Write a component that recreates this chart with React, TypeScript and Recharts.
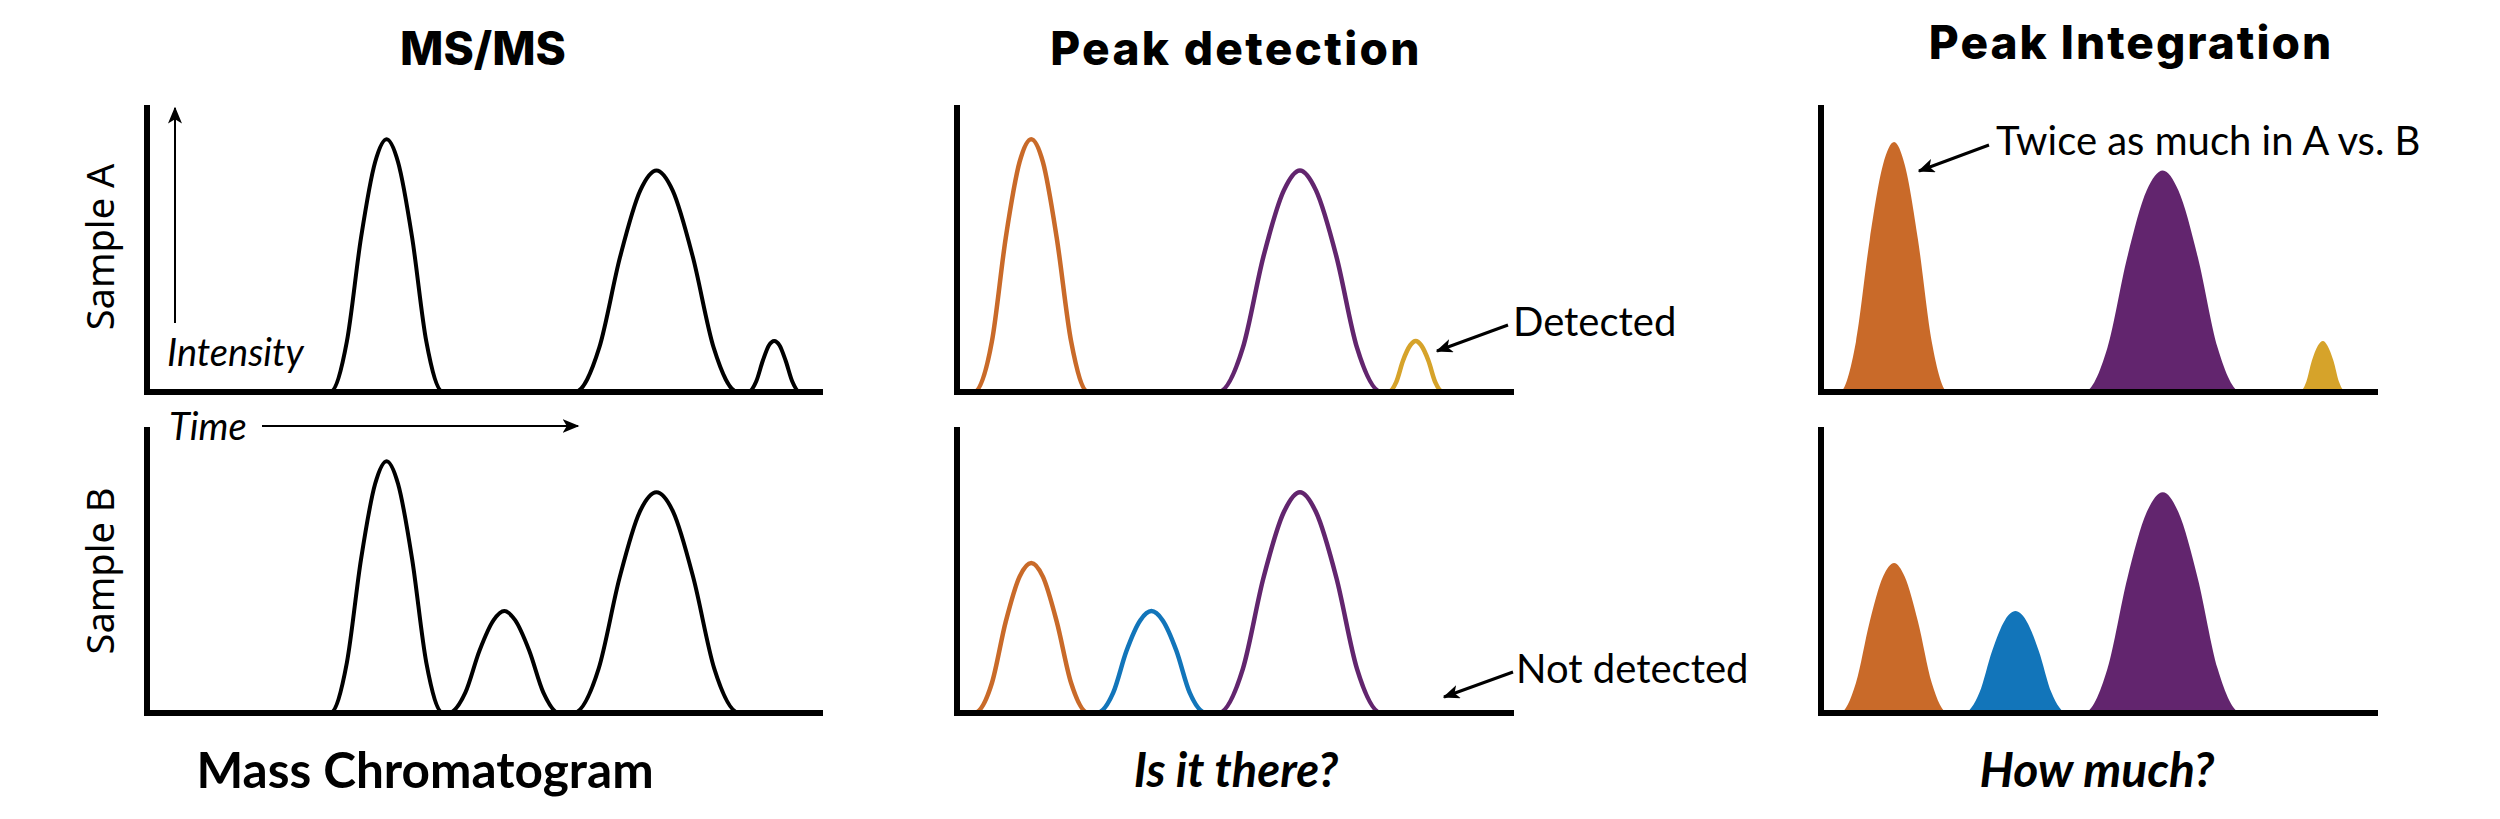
import React from "react";
import { ComposedChart, Line, Area, XAxis, YAxis } from "recharts";

// colours picked from the figure
const ORANGE = "#C96A29";
const PURPLE = "#62256E";
const YELLOW = "#D6A32A";
const BLUE = "#1275BA";
const INK = "#000000";

// --- MS/MS (raw chromatograms), time 0-100, intensity 0-100 ---
const msTimeA = [0, 27.2, 29.7, 31.8, 33.9, 35.6, 37.3, 39.4, 41.5, 44.0, 63.6, 67.2, 70.3, 73.3, 75.7, 78.1, 81.1, 84.2, 87.8, 89.3, 90.5, 91.5, 92.4, 93.2, 94.0, 94.9, 95.9, 97.0, 100];
const msSignalA = [0, 0, 17.8, 54.3, 81.0, 89, 81.0, 54.3, 17.8, 0, 0, 15.6, 47.6, 71.0, 78, 71.0, 47.6, 15.6, 0, 0, 3.6, 11.0, 16.4, 18, 16.4, 11.0, 3.6, 0, 0];
const msTimeB = [0, 27.2, 29.7, 31.8, 33.9, 35.6, 37.3, 39.4, 41.5, 44.0, 44.8, 47.3, 49.4, 51.5, 53.1, 54.7, 56.8, 58.9, 61.2, 63.4, 67.1, 70.2, 73.2, 75.7, 78.2, 81.2, 84.3, 88.0, 100];
const msSignalB = [0, 0, 17.8, 54.3, 81.0, 89, 81.0, 54.3, 17.8, 0, 0, 7.2, 22.0, 32.8, 36, 32.8, 22.0, 7.2, 0, 0, 15.6, 47.6, 71.0, 78, 71.0, 47.6, 15.6, 0, 0];

// --- Peak detection ---
const detTimeOrange = [2.1, 3.1, 6.3, 8.8, 11.3, 13.4, 15.5, 18.0, 20.6, 23.7, 24.7];
const detTimePurple = [46.2, 47.2, 51.6, 55.3, 59.0, 61.9, 64.8, 68.5, 72.2, 76.6, 77.6];
const detTimeYellow = [76.9, 77.8, 79.3, 80.5, 81.8, 82.8, 83.8, 85.1, 86.3, 87.8, 88.6];
const detTimeBlue = [24.4, 25.2, 28.2, 30.6, 33.1, 35.1, 37.1, 39.6, 42.0, 45.0, 45.8];
const detOrangeA = [0, 0, 17.8, 54.3, 81.0, 89, 81.0, 54.3, 17.8, 0, 0];
const detPurpleA = [0, 0, 15.6, 47.6, 71.0, 78, 71.0, 47.6, 15.6, 0, 0];
const detYellowA = [0, 0, 3.6, 11.0, 16.4, 18, 16.4, 11.0, 3.6, 0, 0];
const detOrangeB = [0, 0, 10.6, 32.3, 48.2, 53, 48.2, 32.3, 10.6, 0, 0];
const detBlueB = [0, 0, 7.2, 22.0, 32.8, 36, 32.8, 22.0, 7.2, 0, 0];
const detPurpleB = [0, 0, 15.6, 47.6, 71.0, 78, 71.0, 47.6, 15.6, 0, 0];

// --- Peak integration ---
const intTimeOrange = [2.6, 3.4, 6.3, 8.8, 11.2, 13.2, 15.1, 17.5, 20.0, 22.9, 23.7];
const intTimePurple = [46.7, 47.5, 51.7, 55.3, 58.8, 61.7, 64.5, 68.0, 71.6, 75.8, 76.6];
const intTimeYellow = [85.5, 86.3, 87.6, 88.6, 89.7, 90.6, 91.4, 92.5, 93.5, 94.8, 95.6];
const intTimeBlue = [25.0, 25.8, 28.6, 30.9, 33.2, 35.1, 37.0, 39.3, 41.6, 44.4, 45.2];
const intOrangeA = [0, 0, 17.6, 53.7, 80.1, 88, 80.1, 53.7, 17.6, 0, 0];
const intPurpleA = [0, 0, 15.6, 47.6, 71.0, 78, 71.0, 47.6, 15.6, 0, 0];
const intYellowA = [0, 0, 3.6, 11.0, 16.4, 18, 16.4, 11.0, 3.6, 0, 0];
const intOrangeB = [0, 0, 10.6, 32.3, 48.2, 53, 48.2, 32.3, 10.6, 0, 0];
const intBlueB = [0, 0, 7.2, 22.0, 32.8, 36, 32.8, 22.0, 7.2, 0, 0];
const intPurpleB = [0, 0, 15.6, 47.6, 71.0, 78, 71.0, 47.6, 15.6, 0, 0];

const toRows = (t: number[], v: number[]) => t.map((x, i) => ({ t: x, v: v[i] }));

const PAD = 8;
const axisStyle = { stroke: INK, strokeWidth: 6, strokeLinecap: "square" as const };

// one small chart; the plot area spans x0..x1, y0..y1 on the page
function Panel({ x0, x1, y0, y1, children }: { x0: number; x1: number; y0: number; y1: number; children: React.ReactNode }) {
  return (
    <div style={{ position: "absolute", left: x0 - PAD, top: y0 - PAD }}>
      <ComposedChart
        width={x1 - x0 + 2 * PAD}
        height={y1 - y0 + 2 * PAD}
        margin={{ top: PAD, right: PAD, bottom: PAD - 1, left: PAD - 1 }}
      >
        <XAxis type="number" dataKey="t" domain={[0, 100]} allowDataOverflow height={1} tick={false} tickLine={false} axisLine={axisStyle} />
        <YAxis type="number" domain={[0, 100]} allowDataOverflow width={1} tick={false} tickLine={false} axisLine={axisStyle} />
        {children}
      </ComposedChart>
    </div>
  );
}

const lineProps = { type: "monotone" as const, dataKey: "v", dot: false, isAnimationActive: false, strokeWidth: 4.5 };
const areaProps = { type: "monotone" as const, dataKey: "v", dot: false, isAnimationActive: false, stroke: "none", fillOpacity: 1 };

function Arrow({ x1, y1, x2, y2, w = 3 }: { x1: number; y1: number; x2: number; y2: number; w?: number }) {
  return <line x1={x1} y1={y1} x2={x2} y2={y2} stroke={INK} strokeWidth={w} markerEnd="url(#head)" />;
}

export default function App() {
  const lato = "Lato, 'Open Sans', sans-serif";
  return (
    <div style={{ position: "absolute", left: 0, top: 0, width: 2500, height: 819, background: "#fff", overflow: "hidden" }}>
      {/* MS/MS */}
      <Panel x0={147} x1={820} y0={108} y1={392}>
        <Line {...lineProps} data={toRows(msTimeA, msSignalA)} stroke={INK} strokeWidth={4} />
      </Panel>
      <Panel x0={147} x1={820} y0={430} y1={713}>
        <Line {...lineProps} data={toRows(msTimeB, msSignalB)} stroke={INK} strokeWidth={4} />
      </Panel>

      {/* Peak detection */}
      <Panel x0={957} x1={1511} y0={108} y1={392}>
        <Line {...lineProps} data={toRows(detTimeOrange, detOrangeA)} stroke={ORANGE} />
        <Line {...lineProps} data={toRows(detTimePurple, detPurpleA)} stroke={PURPLE} />
        <Line {...lineProps} data={toRows(detTimeYellow, detYellowA)} stroke={YELLOW} />
      </Panel>
      <Panel x0={957} x1={1511} y0={430} y1={713}>
        <Line {...lineProps} data={toRows(detTimeOrange, detOrangeB)} stroke={ORANGE} />
        <Line {...lineProps} data={toRows(detTimeBlue, detBlueB)} stroke={BLUE} />
        <Line {...lineProps} data={toRows(detTimePurple, detPurpleB)} stroke={PURPLE} />
      </Panel>

      {/* Peak integration */}
      <Panel x0={1821} x1={2375} y0={108} y1={392}>
        <Area {...areaProps} data={toRows(intTimeOrange, intOrangeA)} fill={ORANGE} />
        <Area {...areaProps} data={toRows(intTimePurple, intPurpleA)} fill={PURPLE} />
        <Area {...areaProps} data={toRows(intTimeYellow, intYellowA)} fill={YELLOW} />
      </Panel>
      <Panel x0={1821} x1={2375} y0={430} y1={713}>
        <Area {...areaProps} data={toRows(intTimeOrange, intOrangeB)} fill={ORANGE} />
        <Area {...areaProps} data={toRows(intTimeBlue, intBlueB)} fill={BLUE} />
        <Area {...areaProps} data={toRows(intTimePurple, intPurpleB)} fill={PURPLE} />
      </Panel>

      {/* titles, labels and annotations */}
      <svg width={2500} height={819} style={{ position: "absolute", left: 0, top: 0, pointerEvents: "none" }}>
        <defs>
          <marker id="head" viewBox="0 0 12 10" refX="11" refY="5" markerWidth="17" markerHeight="14" markerUnits="userSpaceOnUse" orient="auto">
            <path d="M0,0 L12,5 L0,10 L3,5 z" fill={INK} />
          </marker>
        </defs>
        <g style={{ fontFamily: "Inter, sans-serif", fontWeight: 800, fontSize: 46 }} textAnchor="middle" fill={INK}>
          <text x={483} y={65}>MS/MS</text>
          <text x={1236} y={65} letterSpacing={2.3}>Peak detection</text>
          <text x={2131} y={59} letterSpacing={2}>Peak Integration</text>
        </g>
        <g style={{ fontFamily: lato, fontWeight: 700, fontSize: 49.5 }} textAnchor="middle" fill={INK}>
          <text x={425} y={788}>Mass Chromatogram</text>
          <text x={1236} y={787} style={{ fontStyle: "italic", fontSize: 47 }}>Is it there?</text>
          <text x={2097} y={787} style={{ fontStyle: "italic", fontSize: 48 }}>How much?</text>
        </g>
        <g style={{ fontFamily: "'Noto Sans', 'Open Sans', sans-serif", fontSize: 38 }} textAnchor="middle" fill={INK}>
          <text x={114} y={247} transform="rotate(-90 114 247)">Sample A</text>
          <text x={114} y={571} transform="rotate(-90 114 571)">Sample B</text>
        </g>
        <g style={{ fontFamily: lato, fontStyle: "italic", fontSize: 38 }} fill={INK}>
          <text x={167} y={366}>Intensity</text>
          <text x={169} y={440}>Time</text>
        </g>
        <g style={{ fontFamily: lato, fontSize: 40 }} fill={INK}>
          <text x={1513} y={336}>Detected</text>
          <text x={1516} y={683}>Not detected</text>
          <text x={1996} y={155}>Twice as much in A vs. B</text>
        </g>
        <Arrow x1={175} y1={323} x2={175} y2={108} w={2} />
        <Arrow x1={262} y1={426} x2={578} y2={426} w={2} />
        <Arrow x1={1508} y1={325} x2={1437} y2={351} />
        <Arrow x1={1513} y1={672} x2={1444} y2={697} />
        <Arrow x1={1989} y1={145} x2={1919} y2={171} />
      </svg>
    </div>
  );
}
